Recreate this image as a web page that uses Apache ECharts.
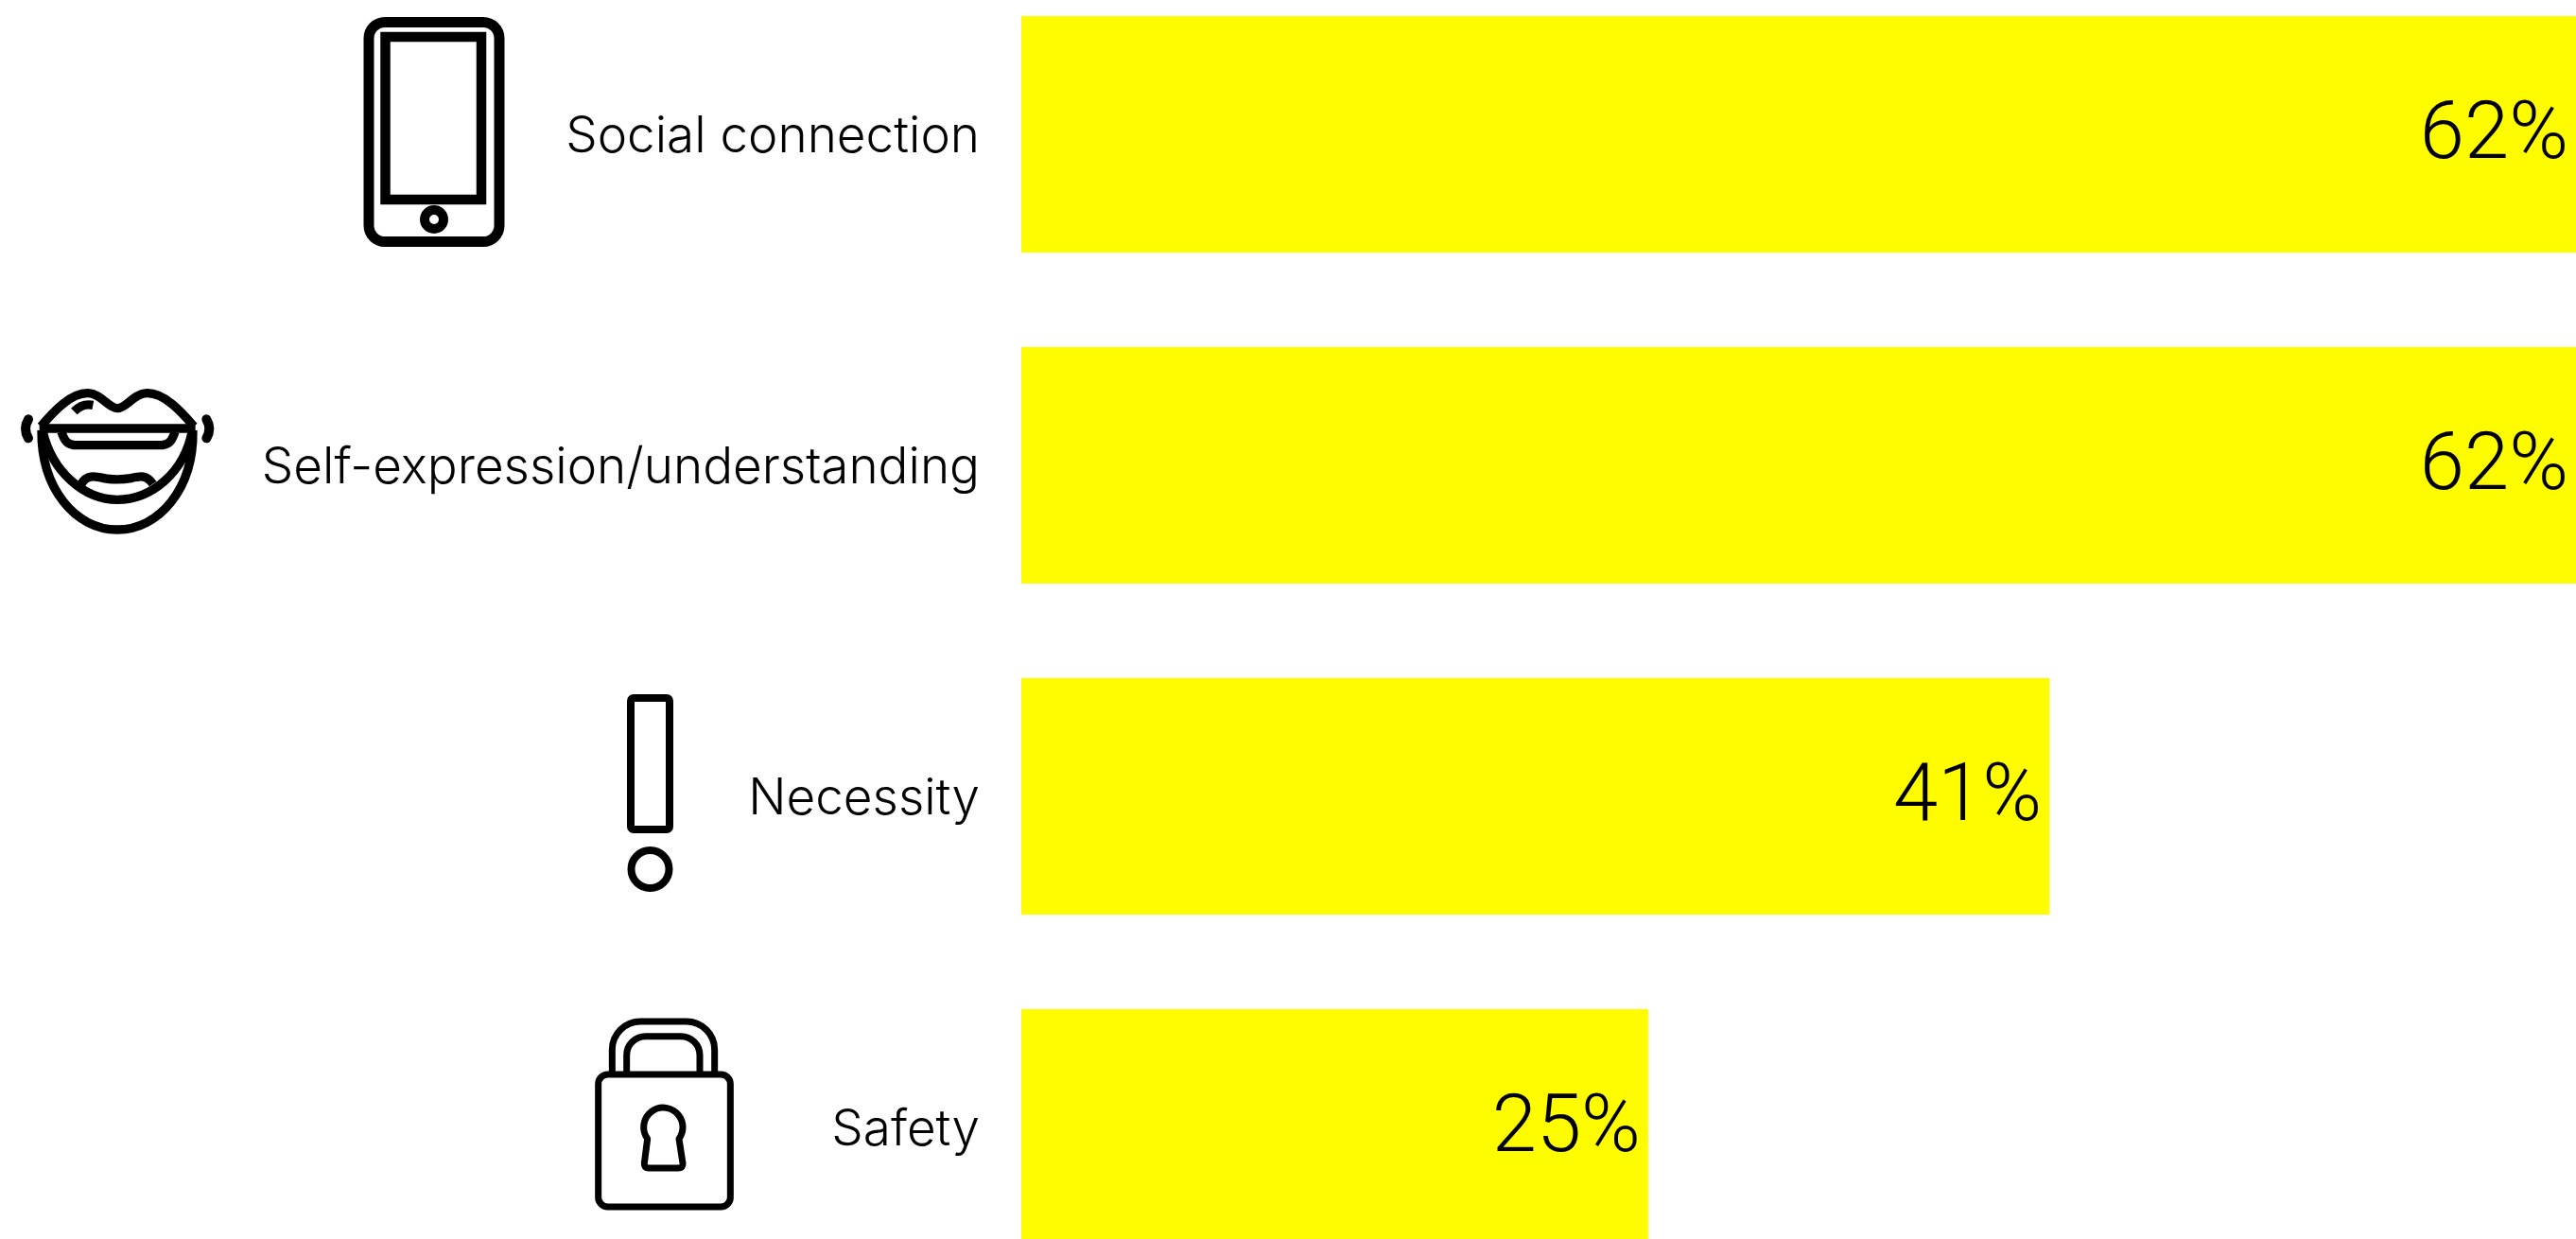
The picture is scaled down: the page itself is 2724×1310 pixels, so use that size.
<!DOCTYPE html>
<html>
<head>
<meta charset="utf-8">
<title>Reasons for using messaging</title>
<style>html,body{margin:0;padding:0;background:#fff}#chart{width:2724px;height:1310px}</style>
<script src="https://cdn.jsdelivr.net/npm/echarts@6/dist/echarts.min.js"></script>
</head>
<body>
<div id="chart"></div>
<script>
const categories = ['Social connection', 'Self-expression/understanding', 'Necessity', 'Safety'];
const shares = [62, 62, 41, 25];
const axisMax = 62;

const INK = '#000000';

const stroke = (lineWidth, extra) => Object.assign({fill: 'none', stroke: INK, lineWidth}, extra || {});

// Pictograms, one per row, drawn around each row's centre line.
const pictograms = [
  {
    designY: 142,
    build: () => [
      {type: 'rect', shape: {x: 390, y: 23.5, width: 138, height: 232, r: 17}, style: stroke(11)},
      {type: 'rect', shape: {x: 407.5, y: 39, width: 101.5, height: 172}, style: stroke(10.5)},
      {type: 'circle', shape: {cx: 459, cy: 232, r: 10}, style: stroke(10)}
    ]
  },
  {
    designY: 492,
    build: () => [{
      type: 'group', scaleX: 1 / 3, scaleY: 1 / 3, y: 360,
      children: [
        'M90 250Q72 280 90 310',
        'M655 250Q673 280 655 310'
      ].map(d => ({type: 'path', shape: {pathData: d}, style: stroke(30, {lineCap: 'round'})})).concat([
        'M130 272C170 225 225 165 280 167C320 168 345 215 372 215C400 215 425 168 465 167C520 165 575 225 615 272',
        'M125 279H620',
        'M195 290C205 320 215 332 245 332H505C535 332 545 320 555 290',
        'M135 285C165 420 270 505 372 505C480 505 585 420 610 285',
        'M132 285C130 470 240 600 372 600C505 600 615 470 612 285',
        'M258 455C275 425 300 430 330 437C350 442 390 442 415 437C445 430 465 425 485 455',
        'M235 225C250 210 270 200 295 205'
      ].map(d => ({type: 'path', shape: {pathData: d}, style: stroke(28, {lineJoin: 'round'})})))
    }]
  },
  {
    designY: 842,
    build: () => [
      {type: 'rect', shape: {x: 667, y: 738, width: 41, height: 139, r: 3}, style: stroke(8)},
      {type: 'circle', shape: {cx: 687.5, cy: 919, r: 20}, style: stroke(8)}
    ]
  },
  {
    designY: 1192,
    build: () => [{
      type: 'group', scaleX: 1 / 3, scaleY: 1 / 3, x: 600, y: 1060,
      children: [
        {type: 'rect', shape: {x: 98, y: 228, width: 419, height: 420, r: 30}, style: stroke(21)},
        {type: 'path', shape: {pathData: 'M142 228V150A90 90 0 0 1 232 60H377A90 90 0 0 1 467 150V228'}, style: stroke(21)},
        {type: 'path', shape: {pathData: 'M188 228V167A60 60 0 0 1 248 107H360A60 60 0 0 1 420 167V228'}, style: stroke(21)},
        {type: 'path', shape: {pathData: 'M254 432A62 62 0 1 1 354 432L366 510Q367 525 352 525H258Q243 525 244 510Z'}, style: stroke(21, {lineJoin: 'round'})}
      ]
    }]
  }
];

const chart = echarts.init(document.getElementById('chart'), null, {renderer: 'canvas'});
chart.setOption({
  animation: false,
  backgroundColor: '#ffffff',
  grid: {left: 1080, right: 0, top: -33, height: 1400, containLabel: false, outerBoundsMode: 'none'},
  xAxis: {type: 'value', min: 0, max: axisMax, show: false},
  yAxis: {
    type: 'category',
    inverse: true,
    data: categories,
    axisLine: {show: false},
    axisTick: {show: false},
    axisLabel: {
      margin: 44,
      formatter: v => '{name|' + v + '}',
      rich: {
        name: {
          padding: [6, 0, 0, 0],
          color: INK,
          fontFamily: 'Inter, "Noto Sans", sans-serif',
          fontWeight: 300,
          fontSize: 53
        }
      }
    }
  },
  series: [
    {
      type: 'bar',
      data: shares,
      barWidth: 250,
      silent: true,
      itemStyle: {color: '#FFFC00'},
      label: {
        show: true,
        position: 'insideRight',
        distance: 8,
        offset: [0, 4],
        formatter: p => p.value + '%',
        color: INK,
        fontFamily: 'Roboto, Inter, sans-serif',
        fontWeight: 300,
        fontSize: 85
      }
    },
    {
      type: 'custom',
      silent: true,
      clip: false,
      data: categories.map((c, i) => [0, i]),
      encode: {x: 0, y: 1},
      renderItem: (params, api) => {
        const row = api.value(1);
        const cy = api.coord([0, row])[1];
        const p = pictograms[row];
        return {type: 'group', x: 0, y: cy - p.designY, children: p.build()};
      }
    }
  ]
});
</script>
</body>
</html>
